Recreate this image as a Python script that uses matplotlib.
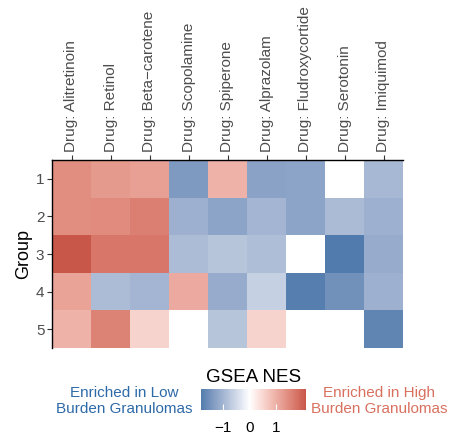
import numpy as np
import matplotlib
matplotlib.use("Agg")
import matplotlib.pyplot as plt
from matplotlib.colors import ListedColormap, Normalize, to_rgb
from matplotlib.cm import ScalarMappable

plt.rcParams['font.family'] = ['Liberation Sans', 'DejaVu Sans']

drugs = ["Drug: Alitretinoin", "Drug: Retinol", "Drug: Beta\u2212carotene", "Drug: Scopolamine",
         "Drug: Spiperone", "Drug: Alprazolam", "Drug: Fludroxycortide", "Drug: Serotonin",
         "Drug: Imiquimod"]
groups = ["1", "2", "3", "4", "5"]
nan = np.nan
# NES values per group (rows) and drug (columns)
nes = np.array([
    [1.40, 1.25, 1.17, -1.36, 0.95, -1.24, -1.23, nan, -0.94],
    [1.40, 1.44, 1.58, -1.05, -1.23, -0.97, -1.23, -0.90, -1.04],
    [2.10, 1.70, 1.69, -0.87, -0.77, -0.86, nan, -1.81, -1.10],
    [1.14, -0.88, -0.97, 1.06, -1.11, -0.61, -1.76, -1.50, -1.05],
    [0.95, 1.53, 0.54, nan, -0.76, 0.53, nan, nan, -1.66],
])

low, mid, high = "#2f69a0", "#ffffff", "#c9564a"


# colours are blended in CIELAB, like ggplot's gradient2
WHITE = np.array([0.95047, 1.0, 1.08883])
M = np.array([[0.4124, 0.3576, 0.1805], [0.2126, 0.7152, 0.0722], [0.0193, 0.1192, 0.9505]])


def to_lab(h):
    c = np.array(to_rgb(h))
    lin = np.where(c <= 0.04045, c / 12.92, ((c + 0.055) / 1.055) ** 2.4)
    xyz = M @ lin / WHITE
    f = np.where(xyz > 0.008856, np.cbrt(xyz), 7.787 * xyz + 16 / 116)
    return np.array([116 * f[1] - 16, 500 * (f[0] - f[1]), 200 * (f[1] - f[2])])


def from_lab(lab):
    fy = (lab[0] + 16) / 116
    f = np.array([fy + lab[1] / 500, fy, fy - lab[2] / 200])
    xyz = np.where(f ** 3 > 0.008856, f ** 3, (f - 16 / 116) / 7.787) * WHITE
    lin = np.linalg.solve(M, xyz)
    c = np.where(lin <= 0.0031308, 12.92 * lin, 1.055 * np.clip(lin, 0, None) ** (1 / 2.4) - 0.055)
    return np.clip(c, 0, 1)


lo, mi, hi = to_lab(low), to_lab(mid), to_lab(high)
cols = []
for t in np.linspace(0, 1, 256):
    if t < 0.5:
        cols.append(from_lab(lo + (mi - lo) * t * 2))
    else:
        cols.append(from_lab(mi + (hi - mi) * (t - 0.5) * 2))
cmap = ListedColormap(cols)
cmap.set_bad("white")
lim = np.nanmax(np.abs(nes))
norm = Normalize(vmin=-lim, vmax=lim)

fig = plt.figure(figsize=(4.54, 4.36), dpi=100)
ax = fig.add_axes([52 / 454, 1 - 348 / 436, 351 / 454, 188 / 436])
ax.imshow(np.ma.masked_invalid(nes), cmap=cmap, norm=norm, aspect="auto", interpolation="nearest")

ax.xaxis.tick_top()
ax.set_xticks(range(len(drugs)))
ax.set_xticklabels(drugs, rotation=90, fontsize=11, color="#4d4d4d")
ax.set_yticks(range(len(groups)))
ax.set_yticklabels(groups, fontsize=11, color="#4d4d4d")
ax.tick_params(length=3.5, width=0.8, color="#333333", pad=2)
for s in ["right", "bottom"]:
    ax.spines[s].set_visible(False)
for s in ["left", "top"]:
    ax.spines[s].set_linewidth(1.0)
ax.set_ylabel("Group", fontsize=13, labelpad=3)

# colour bar
cax = fig.add_axes([201 / 454, 1 - 410 / 436, 105 / 454, 21 / 436])
sm = ScalarMappable(norm=norm, cmap=cmap)
cb = fig.colorbar(sm, cax=cax, orientation="horizontal",
                  boundaries=np.linspace(np.nanmin(nes), np.nanmax(nes), 256))
cb.outline.set_visible(False)
cb.set_ticks([-1, 0, 1])
cb.set_ticklabels(["\u22121", "0", "1"])
cax.tick_params(axis="x", direction="in", length=4, width=0.8, colors="white",
                labelcolor="black", labelsize=11, pad=8)
cax.set_title("GSEA NES", fontsize=13.5, pad=5)

fig.text(124 / 454, 1 - 401 / 436, "Enriched in Low\nBurden Granulomas", ha="center", va="center",
         fontsize=11, color="#2d6aa8", linespacing=1.2)
fig.text(379 / 454, 1 - 401 / 436, "Enriched in High\nBurden Granulomas", ha="center", va="center",
         fontsize=11, color="#d9705f", linespacing=1.2)

fig.savefig("out.png", dpi=100)
